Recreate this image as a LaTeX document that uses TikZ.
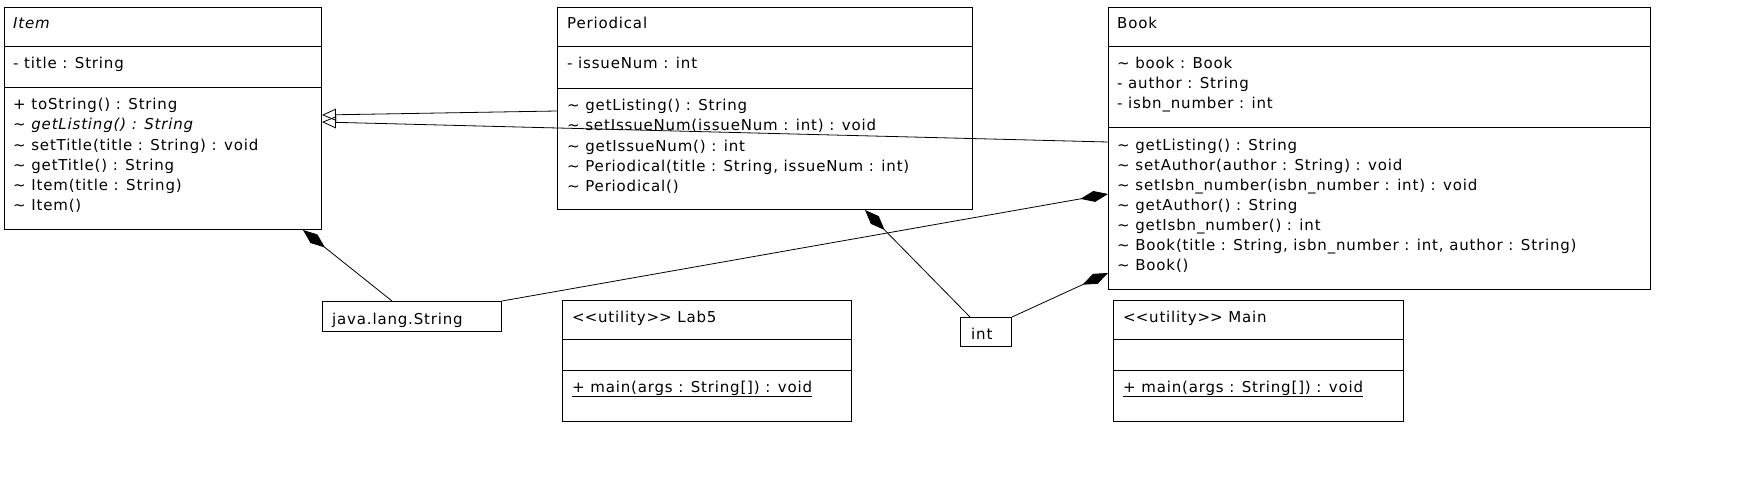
\documentclass[tikz,border=0pt]{standalone}
\usepackage{fontspec}
\setmainfont{DejaVu Sans}[LetterSpace=5.5]
\usetikzlibrary{arrows.meta}
\newcommand{\pk}{\textasciitilde\ } % package visibility
\newcommand{\uty}{<\kern0pt<utility>\kern0pt>\ }

\begin{document}
\begin{tikzpicture}[x=1pt,y=-1pt,font=\fontsize{15}{20}\selectfont] % class diagram, pixel grid
\tikzstyle{classbox} = [draw, line width=1pt, anchor=north west, inner sep=0pt] % frame of a class
\tikzstyle{row} = [anchor=base west, inner sep=0pt, yshift=-2pt] % one line of text
\tikzstyle{sep} = [line width=1pt] % compartment line
\tikzstyle{inherit} = [line width=0.8pt, -{Triangle[open,length=14pt,width=12pt]}] % generalization
\tikzstyle{compose} = [line width=0.8pt, -{Diamond[length=28pt,width=11pt]}] % composition
\useasboundingbox (0,0) rectangle (1739,484);

%
\node[classbox, minimum width=317pt, minimum height=222pt] (item) at (4,7) {}; % Item
\draw[sep] (item.west |- 0,47) -- (item.east |- 0,47);
\draw[sep] (item.west |- 0,88) -- (item.east |- 0,88);
\node[row] (item-t) at (13,27) {\itshape Item};
\node[row] (item-a1) at (13,67) {- title : String};
\node[row] (item-m1) at (13,108) {+ toString() : String};
\node[row] (item-m2) at (13,128) {\itshape\pk getListing() : String};
\node[row] (item-m3) at (13,148) {\pk setTitle(title : String) : void};
\node[row] (item-m4) at (13,168) {\pk getTitle() : String};
\node[row] (item-m5) at (13,188) {\pk Item(title : String)};
\node[row] (item-m6) at (13,208) {\pk Item()};
%
\node[classbox, minimum width=415pt, minimum height=202pt] (period) at (557,7) {}; % Periodical
\draw[sep] (period.west |- 0,47) -- (period.east |- 0,47);
\draw[sep] (period.west |- 0,89) -- (period.east |- 0,89);
\node[row] (period-t) at (567,27) {Periodical};
\node[row] (period-a1) at (567,67) {- issueNum : int};
\node[row] (period-m1) at (567,109) {\pk getListing() : String};
\node[row] (period-m2) at (567,129) {\pk setIssueNum(issueNum : int) : void};
\node[row] (period-m3) at (567,149) {\pk getIssueNum() : int};
\node[row] (period-m4) at (567,169) {\pk Periodical(title : String, issueNum : int)};
\node[row] (period-m5) at (567,189) {\pk Periodical()};
%
\node[classbox, minimum width=542pt, minimum height=282pt] (book) at (1108,7) {}; % Book
\draw[sep] (book.west |- 0,47) -- (book.east |- 0,47);
\draw[sep] (book.west |- 0,128) -- (book.east |- 0,128);
\node[row] (book-t) at (1117,27) {Book};
\node[row] (book-a1) at (1117,67) {\pk book : Book};
\node[row] (book-a2) at (1117,87) {- author : String};
\node[row] (book-a3) at (1117,107) {- isbn\_number : int};
\node[row] (book-m1) at (1117,148) {\pk getListing() : String};
\node[row] (book-m2) at (1117,168) {\pk setAuthor(author : String) : void};
\node[row] (book-m3) at (1117,188) {\pk setIsbn\_number(isbn\_number : int) : void};
\node[row] (book-m4) at (1117,208) {\pk getAuthor() : String};
\node[row] (book-m5) at (1117,228) {\pk getIsbn\_number() : int};
\node[row] (book-m6) at (1117,248) {\pk Book(title : String, isbn\_number : int, author : String)};
\node[row] (book-m7) at (1117,268) {\pk Book()};
%
\node[classbox, minimum width=289pt, minimum height=121.5pt] (lab) at (562,299.5) {}; % Lab5
\draw[sep] (lab.west |- 0,339) -- (lab.east |- 0,339);
\draw[sep] (lab.west |- 0,370) -- (lab.east |- 0,370);
\node[row] (lab-t) at (572,320) {\uty Lab5};
\node[row] (lab-m1) at (572,390) {\underline{+ main(args : String[]) : void}};
%
\node[classbox, minimum width=290pt, minimum height=121.5pt] (main) at (1113,299.5) {}; % Main
\draw[sep] (main.west |- 0,339) -- (main.east |- 0,339);
\draw[sep] (main.west |- 0,370) -- (main.east |- 0,370);
\node[row] (main-t) at (1123,320) {\uty Main};
\node[row] (main-m1) at (1123,390) {\underline{+ main(args : String[]) : void}};
%
\node[classbox, minimum width=179pt, minimum height=30pt] (string) at (322,301) {}; % used types
\node[row] (string-t) at (332,322) {java.lang.String};
\node[classbox, minimum width=51pt, minimum height=29pt] (int) at (960,317) {};
\node[row] (int-t) at (971,337) {int};

% connectors
\draw[inherit] (period.west |- 0,111) -- (item.east |- 0,115);
\draw[inherit] (book.west |- 0,142) -- (item.east |- 0,122);
\draw[compose] (string.north -| 392,0) -- (item.south -| 303,0);
\draw[compose] (string.north east) -- (book.west |- 0,194);
\draw[compose] (int.north -| 970,0) -- (period.south -| 865,0);
\draw[compose] (int.north east) -- (book.west |- 0,273);
\end{tikzpicture}
\end{document}
